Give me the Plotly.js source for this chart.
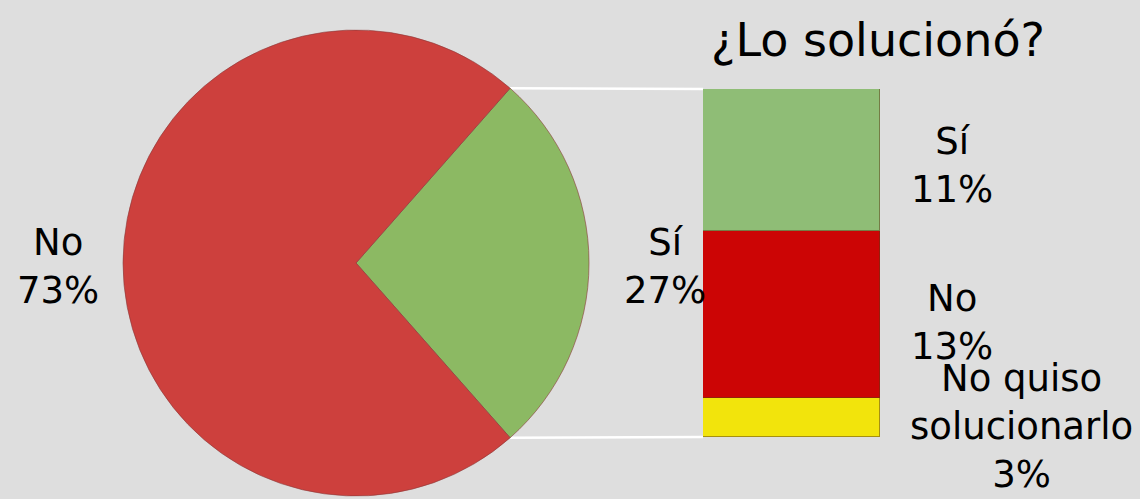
<!DOCTYPE html>
<html>
<head>
<meta charset="utf-8">
<script src="https://cdn.plot.ly/plotly-3.0.1.min.js"></script>
<style>html,body{margin:0;padding:0;background:#dedede;}#chart{width:1140px;height:499px;}</style>
</head>
<body>
<div id="chart"></div>
<script>
// Data
var pieLabels = ["Sí", "No"];
var pieValues = [27, 73];
var pieColors = ["#8cb963", "#cd403d"];

var barLabels = ["No quiso<br>solucionarlo", "No", "Sí"];
var barValues = [3, 13, 11];
var barColors = ["#f2e40c", "#cc0505", "#8fbd76"];

var titleText = "¿Lo solucionó?";

// Layout geometry
var W = 1140, H = 499;
var pieDomX = [0.1079, 0.5167];
var pieDomY = [0.006, 0.9399];
var barDomX = [0.6167, 0.7719];
var barDomY = [0.1242, 0.8216];

var total = pieValues.reduce(function(a, b){ return a + b; }, 0);
var siShare = pieValues[0] / total;
var rotation = 90 - siShare * 360 / 2;

// pie centre/radius in pixels
var cx = (pieDomX[0] + pieDomX[1]) / 2 * W;
var cyUp = (pieDomY[0] + pieDomY[1]) / 2 * H;
var r = Math.min((pieDomX[1] - pieDomX[0]) * W, (pieDomY[1] - pieDomY[0]) * H) / 2;
function piePoint(deg) {
  var a = deg * Math.PI / 180;
  return [(cx + r * Math.sin(a)) / W, (cyUp + r * Math.cos(a)) / H];
}
var pTop = piePoint(rotation);
var pBot = piePoint(rotation + siShare * 360);

var barTotal = barValues.reduce(function(a, b){ return a + b; }, 0);

var traces = [{
  type: "pie",
  labels: pieLabels,
  values: pieValues,
  sort: false,
  direction: "clockwise",
  rotation: rotation,
  textinfo: "none",
  hoverinfo: "label+percent",
  marker: {colors: pieColors, line: {color: "#8a3a3a", width: 0.6}},
  domain: {x: pieDomX, y: pieDomY},
  showlegend: false
}];

for (var i = 0; i < barValues.length; i++) {
  traces.push({
    type: "bar",
    x: ["s"],
    y: [barValues[i]],
    name: barLabels[i],
    marker: {color: barColors[i], line: {color: "rgba(90,60,20,0.5)", width: 1}},
    xaxis: "x", yaxis: "y",
    showlegend: false,
    hoverinfo: "name+y"
  });
}

var fontFam = "DejaVu Sans, Verdana, sans-serif";
var labFont = {family: fontFam, size: 37, color: "#000"};

function pct(v, t) { return Math.round(v / t * 100) + "%"; }

var annotations = [
  {text: pieLabels[1] + "<br>" + pct(pieValues[1], total), x: 58 / W, y: 1 - 266 / H},
  {text: pieLabels[0] + "<br>" + pct(pieValues[0], total), x: 665 / W, y: 1 - 266 / H},
  {text: barLabels[2] + "<br>" + pct(barValues[2], total), x: 952 / W, y: 1 - 165 / H},
  {text: barLabels[1] + "<br>" + pct(barValues[1], total), x: 952 / W, y: 1 - 322 / H},
  {text: barLabels[0] + "<br>" + pct(barValues[0], total), x: 1021 / W, y: 1 - 426 / H}
].map(function(a) {
  return {text: a.text, x: a.x, y: a.y, xref: "paper", yref: "paper",
          xanchor: "center", yanchor: "middle", showarrow: false,
          align: "center", font: labFont};
});

var layout = {
  width: W, height: H,
  margin: {l: 0, r: 0, t: 0, b: 0},
  paper_bgcolor: "#dedede",
  plot_bgcolor: "rgba(0,0,0,0)",
  barmode: "stack",
  bargap: 0,
  title: {text: titleText, x: 878 / W, xanchor: "center", y: 1 - 40 / H, yanchor: "middle",
          font: {family: fontFam, size: 46, color: "#000"}},
  xaxis: {domain: barDomX, range: [-0.5, 0.5], visible: false, fixedrange: true},
  yaxis: {domain: barDomY, range: [0, barTotal], visible: false, fixedrange: true},
  shapes: [
    {type: "line", xref: "paper", yref: "paper", x0: pTop[0], y0: pTop[1], x1: barDomX[0], y1: barDomY[1],
     line: {color: "#ffffff", width: 2.5}, layer: "below"},
    {type: "line", xref: "paper", yref: "paper", x0: pBot[0], y0: pBot[1], x1: barDomX[0], y1: barDomY[0],
     line: {color: "#ffffff", width: 2.5}, layer: "below"}
  ],
  annotations: annotations,
  showlegend: false
};

Plotly.newPlot("chart", traces, layout, {displayModeBar: false, staticPlot: false});
</script>
</body>
</html>
